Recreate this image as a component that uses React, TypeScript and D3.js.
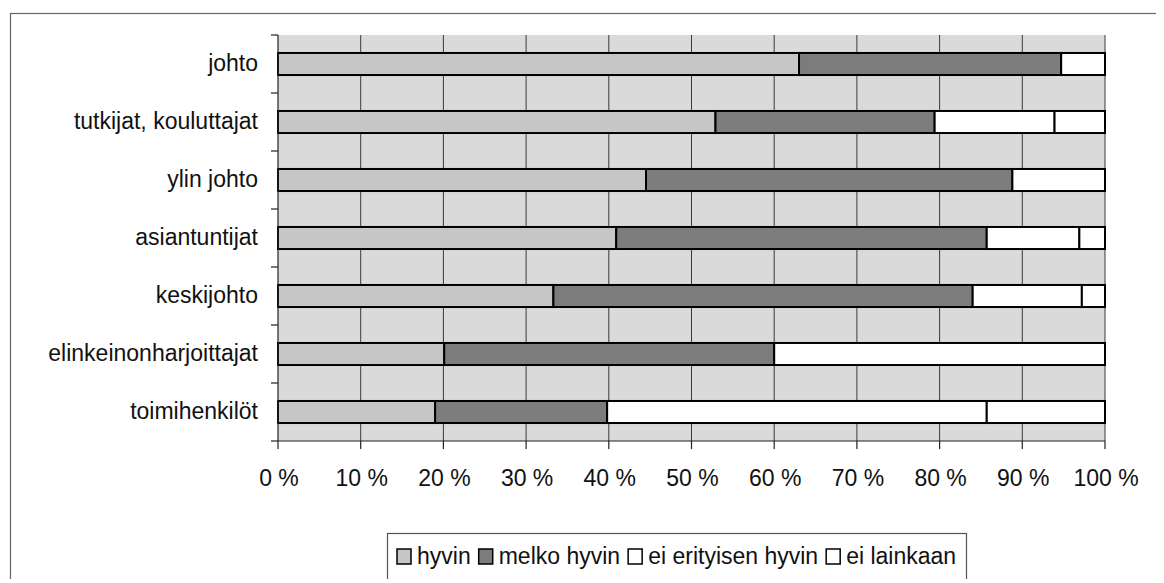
import React, { useEffect, useRef } from 'react';
import * as d3 from 'd3';

// categories, top to bottom
const categories = [
  'johto',
  'tutkijat, kouluttajat',
  'ylin johto',
  'asiantuntijat',
  'keskijohto',
  'elinkeinonharjoittajat',
  'toimihenkilöt',
];

// shares in percent, one array per answer
const hyvin = [63.0, 52.9, 44.5, 40.9, 33.3, 20.1, 19.0];
const melkoHyvin = [31.7, 26.5, 44.3, 44.8, 50.7, 39.9, 20.8];
const eiErityisenHyvin = [5.3, 14.5, 11.2, 11.2, 13.2, 40.0, 45.9];
const eiLainkaan = [0, 6.1, 0, 3.1, 2.8, 0, 14.3];

const seriesNames = ['hyvin', 'melko hyvin', 'ei erityisen hyvin', 'ei lainkaan'];
const seriesColors = ['#c6c6c6', '#7c7c7c', '#ffffff', '#ffffff'];
const xTicks = [0, 10, 20, 30, 40, 50, 60, 70, 80, 90, 100];

const App = () => {
  const svgRef = useRef<SVGSVGElement>(null);

  useEffect(() => {
    const width = 1164;
    const height = 583;
    const font = "'Liberation Sans', Arial, sans-serif";

    const svg = d3.select(svgRef.current);
    svg.selectAll('*').remove();
    svg.attr('width', width).attr('height', height);

    // outer chart frame (runs off the page at right and bottom)
    svg.append('rect')
      .attr('x', 10.5).attr('y', 13.5)
      .attr('width', 1170).attr('height', 620)
      .attr('fill', '#fff').attr('stroke', '#666').attr('stroke-width', 1.2);

    const left = 278;
    const right = 1105;
    const top = 35;
    const bottom = 441;

    const x = d3.scaleLinear().domain([0, 100]).range([left, right]);
    const y = d3.scaleBand()
      .domain(categories)
      .range([top, bottom])
      .paddingInner(0.62)
      .paddingOuter(0.31);

    // plot background
    svg.append('rect')
      .attr('x', left).attr('y', top)
      .attr('width', right - left).attr('height', bottom - top)
      .attr('fill', '#dadada');

    // vertical gridlines
    svg.append('g')
      .selectAll('line')
      .data(xTicks.filter(d => d > 0))
      .enter().append('line')
      .attr('x1', d => x(d)).attr('x2', d => x(d))
      .attr('y1', top).attr('y2', bottom)
      .attr('stroke', '#3a3a3a').attr('stroke-width', 1);

    // stacked bars
    const rows = categories.map((c, i) => ({
      cat: c,
      vals: [hyvin[i], melkoHyvin[i], eiErityisenHyvin[i], eiLainkaan[i]],
    }));
    const bars = svg.append('g');
    rows.forEach(r => {
      let acc = 0;
      r.vals.forEach((v, k) => {
        if (v > 0) {
          bars.append('rect')
            .attr('x', x(acc))
            .attr('y', y(r.cat) as number)
            .attr('width', x(acc + v) - x(acc))
            .attr('height', y.bandwidth())
            .attr('fill', seriesColors[k])
            .attr('stroke', '#000')
            .attr('stroke-width', 2);
        }
        acc += v;
      });
    });

    // axes
    const step = y.step();
    const gap = (step - y.bandwidth()) / 2;
    const bounds = categories.map(c => (y(c) as number) - gap).concat([bottom]);

    const axis = svg.append('g').attr('stroke', '#222').attr('stroke-width', 1.2);
    axis.append('line').attr('x1', left).attr('x2', left).attr('y1', top).attr('y2', bottom);
    axis.append('line').attr('x1', left).attr('x2', right).attr('y1', bottom).attr('y2', bottom);
    axis.selectAll('.ty')
      .data(bounds)
      .enter().append('line')
      .attr('x1', left - 7).attr('x2', left)
      .attr('y1', d => d).attr('y2', d => d);
    axis.selectAll('.tx')
      .data(xTicks)
      .enter().append('line')
      .attr('x1', d => x(d)).attr('x2', d => x(d))
      .attr('y1', bottom).attr('y2', bottom + 8);

    // category labels
    svg.append('g')
      .selectAll('text')
      .data(categories)
      .enter().append('text')
      .attr('x', left - 20)
      .attr('y', d => (y(d) as number) + y.bandwidth() / 2 + 7)
      .attr('text-anchor', 'end')
      .attr('font-family', font)
      .attr('font-size', 23)
      .attr('fill', '#111')
      .text(d => d);

    // x tick labels
    svg.append('g')
      .selectAll('text')
      .data(xTicks)
      .enter().append('text')
      .attr('x', d => x(d) + 1)
      .attr('y', 486)
      .attr('text-anchor', 'middle')
      .attr('font-family', font)
      .attr('font-size', 23)
      .attr('fill', '#111')
      .text(d => `${d} %`);

    // legend
    const legend = svg.append('g');
    legend.append('rect')
      .attr('x', 387.5).attr('y', 533.5)
      .attr('width', 579).attr('height', 48)
      .attr('fill', '#fff').attr('stroke', '#555').attr('stroke-width', 1.2);

    let lx = 397;
    seriesNames.forEach((name, k) => {
      legend.append('rect')
        .attr('x', lx).attr('y', 549)
        .attr('width', 14).attr('height', 15)
        .attr('fill', seriesColors[k])
        .attr('stroke', '#000').attr('stroke-width', 1.5);
      const t = legend.append('text')
        .attr('x', lx + 20)
        .attr('y', 564)
        .attr('font-family', font)
        .attr('font-size', 23)
        .attr('fill', '#111')
        .text(name);
      const w = (t.node() as SVGTextElement).getComputedTextLength();
      lx += 20 + w + 8;
    });
  }, []);

  return (
    <div style={{ margin: -8 }}>
      <svg ref={svgRef}></svg>
    </div>
  );
};

export default App;
